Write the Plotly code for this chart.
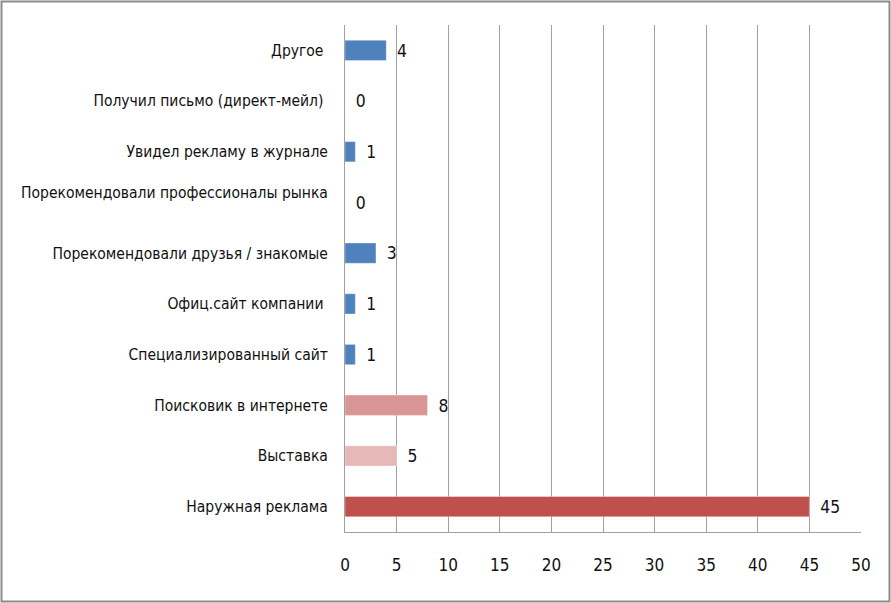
import plotly.graph_objects as go

categories = [
    "Наружная реклама",
    "Выставка",
    "Поисковик в интернете",
    "Специализированный сайт",
    "Офиц.сайт компании ",
    "Порекомендовали друзья / знакомые",
    "Порекомендовали профессионалы рынка<br>\u00a0",
    "Увидел рекламу в журнале",
    "Получил письмо (директ-мейл) ",
    "Другое ",
]
values = [45, 5, 8, 1, 1, 3, 0, 1, 0, 4]
bar_colors = ["#C0504D", "#E6B9B8", "#D99694", "#4F81BD", "#4F81BD",
              "#4F81BD", "#4F81BD", "#4F81BD", "#4F81BD", "#4F81BD"]
x_ticks = [0, 5, 10, 15, 20, 25, 30, 35, 40, 45, 50]

FONT = "Liberation Sans Narrow, DejaVu Sans Condensed, Arial Narrow, Liberation Sans, sans-serif"

fig = go.Figure(go.Bar(
    y=categories,
    x=values,
    orientation="h",
    marker=dict(color=bar_colors, line=dict(color="rgba(255,255,255,0.35)", width=1)),
    text=["\u2002" + str(v) for v in values],
    textposition="outside",
    cliponaxis=False,
    textfont=dict(family=FONT, size=18, color="#111111"),
))

L, R, T, B = 345, 30, 25, 71
W, H = 891, 603
pw, ph = W - L - R, H - T - B

def px_to_paper_x(px):
    return (px - L) / pw

def py_to_paper_y(py):
    return (H - B - py) / ph

fig.add_shape(type="rect", xref="paper", yref="paper",
              x0=px_to_paper_x(1.5), x1=px_to_paper_x(889.5),
              y0=py_to_paper_y(601.5), y1=py_to_paper_y(1.5),
              line=dict(color="#8C8C8C", width=2), fillcolor="rgba(0,0,0,0)", layer="below")

fig.update_layout(
    width=W, height=H,
    margin=dict(l=L, r=R, t=T, b=B, pad=0, autoexpand=False),
    paper_bgcolor="white",
    plot_bgcolor="white",
    showlegend=False,
    bargap=0.6,
    font=dict(family=FONT, size=18, color="#111111"),
    xaxis=dict(
        range=[0, 50],
        tickvals=x_ticks,
        ticktext=[str(t) for t in x_ticks],
        showgrid=True,
        gridcolor="#A0A0A0",
        gridwidth=1,
        showline=True,
        linecolor="#A0A0A0",
        linewidth=1,
        zeroline=False,
        ticks="",
        ticklabelstandoff=18,
        automargin=False,
        tickfont=dict(family=FONT, size=17, color="#111111"),
        fixedrange=True,
    ),
    yaxis=dict(
        showgrid=False,
        showline=True,
        linecolor="#A0A0A0",
        linewidth=1,
        ticks="",
        ticklabelstandoff=13,
        automargin=False,
        tickfont=dict(family=FONT, size=15.5, color="#111111"),
        fixedrange=True,
    ),
)

fig.write_html("out.html")
